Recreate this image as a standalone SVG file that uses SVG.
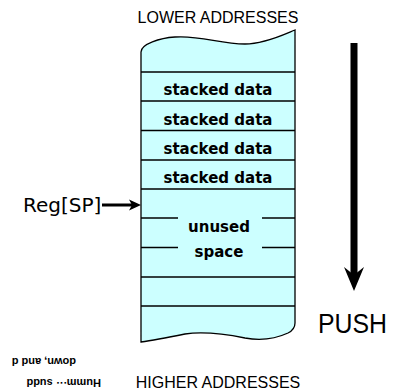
<svg xmlns="http://www.w3.org/2000/svg" width="406" height="391" viewBox="0 0 406 391">
  <style>
    .lbl { font-family: "Liberation Sans", Arial, sans-serif; font-size: 16px; fill: #000; text-anchor: middle; }
    .cell { font-family: "DejaVu Sans", sans-serif; font-weight: bold; font-size: 15px; fill: #000; text-anchor: middle; }
    .reg { font-family: "DejaVu Sans", sans-serif; font-size: 20px; fill: #000; }
    .push { font-family: "Liberation Sans", Arial, sans-serif; font-size: 28px; fill: #000; }
    .note { font-family: "Liberation Sans", Arial, sans-serif; font-weight: bold; font-size: 11px; fill: #000; }
    .rule { stroke: #000; stroke-width: 1.3; fill: none; }
  </style>

  <!-- address labels -->
  <text class="lbl" x="218" y="23">LOWER ADDRESSES</text>
  <text class="lbl" x="218" y="388">HIGHER ADDRESSES</text>

  <!-- stack memory column with torn top and bottom -->
  <g id="stack">
    <path d="M141,52 C141,44 160,38 175,37 C200,35 220,44 245,44 C265,44 285,34 295,30 L295,323 C295,328 292,331 288,333 C275,339 262,341 245,338 C225,334 205,331 185,334 C170,337 155,340 141,342 Z"
          fill="#ccffff" stroke="#000" stroke-width="1.3"/>
    <line class="rule" x1="141" y1="72" x2="295" y2="72"/>
    <line class="rule" x1="141" y1="101" x2="295" y2="101"/>
    <line class="rule" x1="141" y1="130.5" x2="295" y2="130.5"/>
    <line class="rule" x1="141" y1="160" x2="295" y2="160"/>
    <line class="rule" x1="141" y1="189" x2="295" y2="189"/>
    <line class="rule" x1="141" y1="218" x2="178" y2="218"/>
    <line class="rule" x1="262" y1="218" x2="295" y2="218"/>
    <line class="rule" x1="141" y1="247.5" x2="178" y2="247.5"/>
    <line class="rule" x1="262" y1="247.5" x2="295" y2="247.5"/>
    <line class="rule" x1="141" y1="277" x2="295" y2="277"/>
    <line class="rule" x1="141" y1="306" x2="295" y2="306"/>
  </g>

  <g id="cell-1"><text class="cell" x="218" y="95">stacked data</text></g>
  <g id="cell-2"><text class="cell" x="218" y="124.5">stacked data</text></g>
  <g id="cell-3"><text class="cell" x="218" y="154">stacked data</text></g>
  <g id="cell-4"><text class="cell" x="218" y="183">stacked data</text></g>
  <g id="unused">
    <text class="cell" x="219" y="232">unused</text>
    <text class="cell" x="219" y="257">space</text>
  </g>

  <g id="reg-sp"><text class="reg" x="23" y="212">Reg[SP]</text></g>
  <g id="push-label"><text class="push" x="318" y="333" textLength="69" lengthAdjust="spacingAndGlyphs">PUSH</text></g>

  <!-- pointers -->
  <g id="connectors">
    <line x1="102" y1="205" x2="133" y2="205" stroke="#000" stroke-width="3"/>
    <path d="M141,205 L129,199.5 L132,205 L129,210.5 Z" fill="#000"/>
    <rect x="350.5" y="43" width="7" height="236" fill="#000"/>
    <path d="M354,291 L344,267 L354,275 L364,267 Z" fill="#000"/>
  </g>

  <!-- inverted caption -->
  <g id="caption">
    <text class="note" x="76" y="358" transform="rotate(180 76 358)">down, and d</text>
    <text class="note" x="101" y="379" transform="rotate(180 101 379)">Humm··· sudd</text>
  </g>
</svg>
